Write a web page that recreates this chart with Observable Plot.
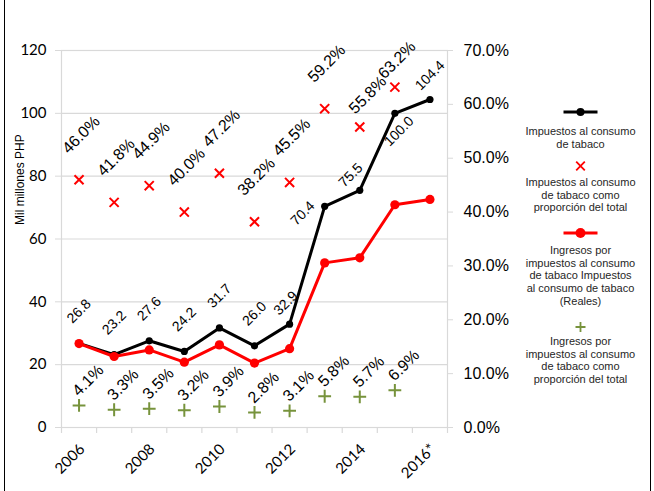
<!DOCTYPE html>
<html><head><meta charset="utf-8">
<script src="https://cdn.jsdelivr.net/npm/d3@7"></script>
<script src="https://cdn.jsdelivr.net/npm/@observablehq/plot@0.6"></script>
<style>
body{margin:0;background:#fff;}
#wrap{position:relative;width:654px;height:491px;overflow:hidden;background:#fff;}
#wrap:after{content:"";position:absolute;left:4px;top:0;bottom:0;width:645px;border-left:1px solid #000;border-right:1px solid #000;pointer-events:none;}
</style></head><body><div id="wrap"></div>
<script>
// ---- data ----
const years = [2006, 2007, 2008, 2009, 2010, 2011, 2012, 2013, 2014, 2015, 2016];
const impuestos = [26.8, 23.2, 27.6, 24.2, 31.7, 26.0, 32.9, 70.4, 75.5, 100.0, 104.4];
const impuestosPct = [46.0, 41.8, 44.9, 40.0, 47.2, 38.2, 45.5, 59.2, 55.8, 63.2];
const ingresosReales = [26.7, 22.6, 24.7, 20.8, 26.3, 20.5, 25.1, 52.4, 54.0, 70.9, 72.6];
const ingresosPct = [4.1, 3.3, 3.5, 3.2, 3.9, 2.8, 3.1, 5.8, 5.7, 6.9];
const leftTicks = [0, 20, 40, 60, 80, 100, 120];
const rightTicks = [0, 10, 20, 30, 40, 50, 60, 70];
const yearTickYears = [2006, 2008, 2010, 2012, 2014, 2016];
const yearTickLabels = ["2006", "2008", "2010", "2012", "2014", "2016*"];
const yLabel = "Mil millones PHP";
const legendLabels = [
  "Impuestos al consumo\nde tabaco",
  "Impuestos al consumo\nde tabaco como\nproporción del total",
  "Ingresos por\nimpuestos al consumo\nde tabaco Impuestos\nal consumo de tabaco\n(Reales)",
  "Ingresos por\nimpuestos al consumo\nde tabaco como\nproporción del total"
];

// ---- chart ----
const BLACK = "#000000", RED = "#ff0000", GREEN = "#77933c", GRID = "#d9d9d9";
const k = 120 / 70; // percent -> left-axis units
const rows = years.map((year, i) => ({year, imp: impuestos[i], real: ingresosReales[i], impPct: impuestosPct[i], ingPct: ingresosPct[i]}));
const pctRows = rows.filter(d => d.impPct != null);
const ingRows = rows.filter(d => d.ingPct != null);
const boundaries = d3.range(years.length + 1).map(i => years[0] - 0.5 + i);

const LABEL_FONT = "Liberation Sans, Arial, sans-serif";
const TICK_FONT = "Lato, Carlito, sans-serif";

function lab(data, y, text, fontSize, dx, dy, filter) {
  return Plot.text(data, {filter, x: "year", y, text, rotate: -45, dx, dy, fontSize, fontFamily: LABEL_FONT, fill: "#000"});
}
const fmt1 = v => v.toFixed(1);
const pct1 = v => v.toFixed(1) + "%";

const chart = Plot.plot({
  width: 654,
  height: 491,
  marginLeft: 61,
  marginRight: 207,
  marginTop: 50,
  marginBottom: 64,
  style: {background: "#fff", overflow: "visible"},
  x: {type: "linear", domain: [years[0] - 0.5, years[years.length - 1] + 0.5], label: null},
  y: {domain: [0, 120], label: null},
  marks: [
    Plot.ruleY(leftTicks, {stroke: GRID, strokeWidth: 1.2}),
    Plot.frame({stroke: GRID, strokeWidth: 1.2}),
    Plot.axisX(boundaries, {tickSize: 6, tickFormat: () => "", stroke: GRID, strokeWidth: 1.2, label: null}),
    Plot.text(yearTickYears, {x: d => d, text: (d, i) => yearTickLabels[i], frameAnchor: "bottom", rotate: -45, textAnchor: "end", lineAnchor: "top", dx: -1, dy: 15, fontSize: 15, fontFamily: TICK_FONT, fill: "#000"}),
    Plot.axisY(leftTicks, {anchor: "left", tickSize: 6, tickPadding: 9, fontSize: 15, fontFamily: TICK_FONT, stroke: GRID, fill: "#000", label: null}),
    Plot.axisY(rightTicks.map(p => p * k), {anchor: "right", tickSize: 5, tickPadding: 11, tickFormat: d => (d / k).toFixed(1) + "%", fontSize: 16, fontFamily: LABEL_FONT, stroke: GRID, fill: "#000", label: null}),
    Plot.text([yLabel], {frameAnchor: "left", rotate: -90, dx: -41, dy: -14, fontSize: 12, fontFamily: LABEL_FONT, fill: "#000"}),
    // black line
    Plot.line(rows, {x: "year", y: "imp", stroke: BLACK, strokeWidth: 3}),
    Plot.dot(rows, {x: "year", y: "imp", r: 3.6, fill: BLACK}),
    // red line
    Plot.line(rows, {x: "year", y: "real", stroke: RED, strokeWidth: 3}),
    Plot.dot(rows, {x: "year", y: "real", r: 4.6, fill: RED}),
    // markers
    Plot.dot(pctRows, {x: "year", y: d => d.impPct * k, symbol: "times", r: 4.2, stroke: RED, strokeWidth: 2}),
    Plot.dot(ingRows, {x: "year", y: d => d.ingPct * k, symbol: "plus", r: 4.2, stroke: GREEN, strokeWidth: 2}),
    // black value labels
    lab(rows, "imp", d => fmt1(d.imp), 14, 0, -32, d => d.year <= 2011),
    lab(rows, "imp", d => fmt1(d.imp), 14, -4, -21, d => d.year === 2012),
    lab(rows, "imp", d => fmt1(d.imp), 14, -22, 7, d => d.year === 2013),
    lab(rows, "imp", d => fmt1(d.imp), 14, -9, -15, d => d.year === 2014),
    lab(rows, "imp", d => fmt1(d.imp), 14, 4, 18, d => d.year === 2015),
    lab(rows, "imp", d => fmt1(d.imp), 14, 0, -24, d => d.year === 2016),
    // red x labels
    lab(pctRows, d => d.impPct * k, d => pct1(d.impPct), 16, 2, -45, d => d.year <= 2013),
    lab(pctRows, d => d.impPct * k, d => pct1(d.impPct), 16, 8, -32, d => d.year === 2014),
    lab(pctRows, d => d.impPct * k, d => pct1(d.impPct), 16, 2, -27, d => d.year === 2015),
    // green + labels
    lab(ingRows, d => d.ingPct * k, d => pct1(d.ingPct), 16, 9, -25)
  ]
});
document.getElementById("wrap").appendChild(chart);

// ---- legend ----
const svg = d3.select(chart);
const lg = svg.append("g").attr("font-family", "Liberation Sans, Arial, sans-serif").attr("font-size", 11).attr("fill", "#262626");
const cx = 580.5, lineH = 12.7;
const items = [
  {kind: "line", color: BLACK, r: 4, cy: 112, ty: 131},
  {kind: "times", color: RED, cy: 166, ty: 182},
  {kind: "line", color: RED, r: 5, cy: 233, ty: 250},
  {kind: "plus", color: GREEN, cy: 327, ty: 341}
];
items.forEach((it, i) => {
  if (it.kind === "line") {
    lg.append("line").attr("x1", cx - 17).attr("x2", cx + 17).attr("y1", it.cy).attr("y2", it.cy).attr("stroke", it.color).attr("stroke-width", 3);
    lg.append("circle").attr("cx", cx).attr("cy", it.cy).attr("r", it.r).attr("fill", it.color);
  } else if (it.kind === "times") {
    const s = 4.3;
    lg.append("path").attr("d", `M${cx - s},${it.cy - s}L${cx + s},${it.cy + s}M${cx - s},${it.cy + s}L${cx + s},${it.cy - s}`).attr("stroke", it.color).attr("stroke-width", 1.8).attr("fill", "none");
  } else {
    const s = 5;
    lg.append("path").attr("d", `M${cx - s},${it.cy}L${cx + s},${it.cy}M${cx},${it.cy - s}L${cx},${it.cy + s}`).attr("stroke", it.color).attr("stroke-width", 1.8).attr("fill", "none");
  }
  const t = lg.append("text").attr("text-anchor", "middle");
  legendLabels[i].split("\n").forEach((line, j) => {
    t.append("tspan").attr("x", cx).attr("y", it.ty + j * lineH).attr("dy", "0.35em").text(line);
  });
});
</script>
</body></html>
